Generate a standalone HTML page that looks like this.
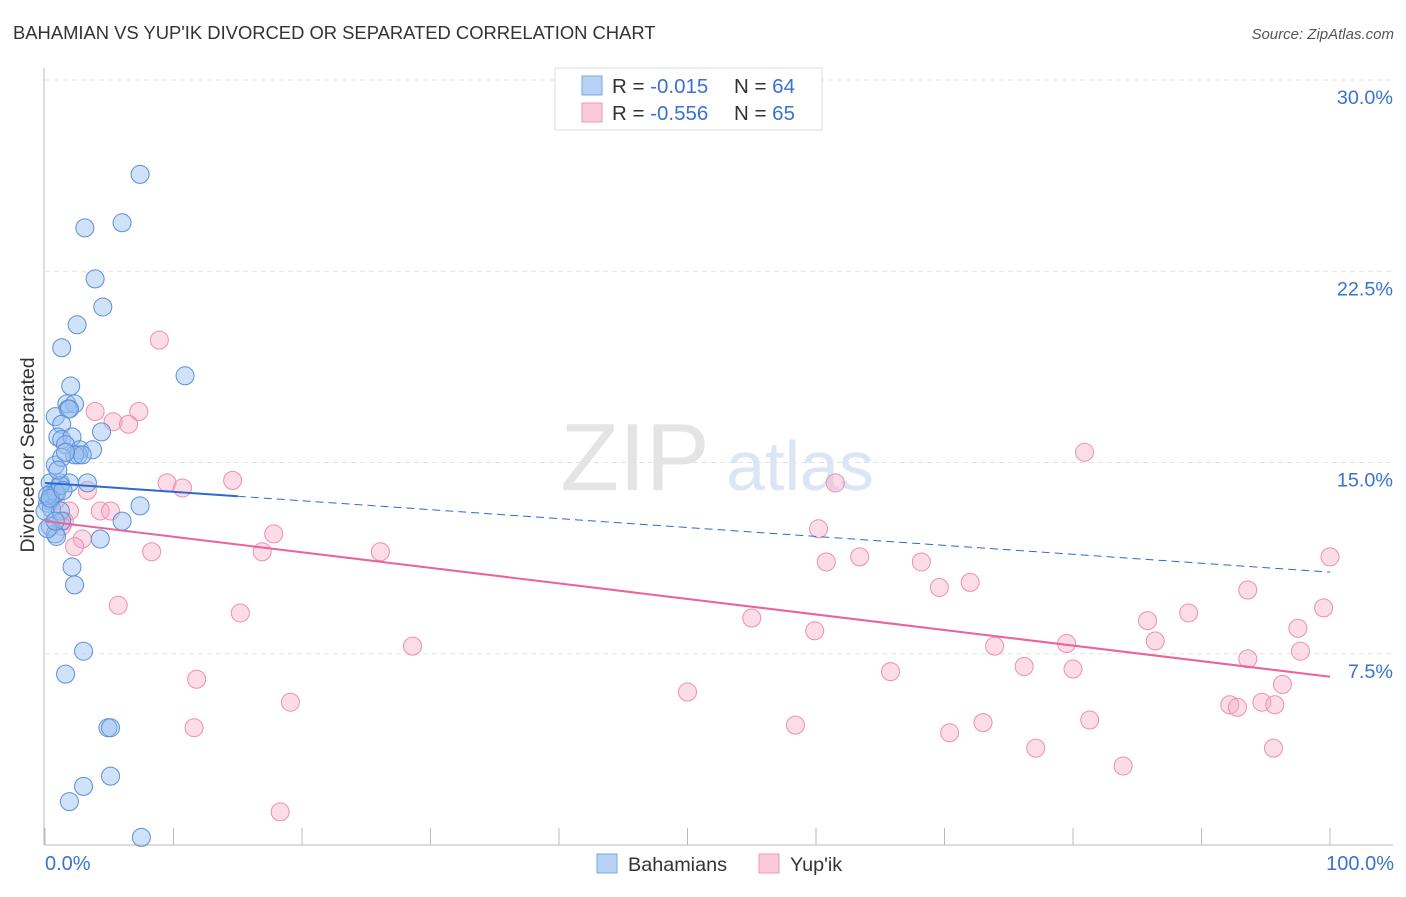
<!DOCTYPE html>
<html><head><meta charset="utf-8">
<style>
body{margin:0;background:#fff;font-family:"Liberation Sans",sans-serif;}
svg text{font-family:"Liberation Sans",sans-serif;}
</style></head>
<body>
<svg width="1406" height="892" viewBox="0 0 1406 892" xmlns="http://www.w3.org/2000/svg">
<text x="13" y="39" font-size="18.4" fill="#333">BAHAMIAN VS YUP'IK DIVORCED OR SEPARATED CORRELATION CHART</text>
<text x="1394" y="39" font-size="15" fill="#555" font-style="italic" text-anchor="end">Source: ZipAtlas.com</text>
<text x="635" y="490" font-size="96" fill="#e4e4e4" font-family="Liberation Serif" text-anchor="middle">ZIP</text>
<text x="800" y="490" font-size="70" fill="#dbe6f5" text-anchor="middle">atlas</text>
<g id="grid"></g>
<g id="axes"></g>
<g id="pts"></g>
<g id="trend"></g>
<text transform="translate(34,455) rotate(-90)" font-size="19.5" fill="#333" text-anchor="middle">Divorced or Separated</text>
<text x="45" y="870" font-size="20" fill="#3a72d0">0.0%</text>
<text x="1394" y="870" font-size="20" fill="#3a72d0" text-anchor="end">100.0%</text>
<g>
<rect x="555" y="68" width="267" height="62" fill="#fff" stroke="#ddd"/>
<rect x="582" y="76" width="20" height="19" fill="#b7d2f5" stroke="#7aa5e3"/>
<rect x="582" y="103" width="20" height="19" fill="#fbc9d8" stroke="#ef9ab5"/>
<text x="612" y="93" font-size="20.5" fill="#333">R = <tspan fill="#3a72d0">-0.015</tspan><tspan x="734">N = </tspan><tspan fill="#3a72d0">64</tspan></text>
<text x="612" y="120" font-size="20.5" fill="#333">R = <tspan fill="#3a72d0">-0.556</tspan><tspan x="734">N = </tspan><tspan fill="#3a72d0">65</tspan></text>
</g>
<g>
<rect x="597" y="854" width="20" height="19" fill="#b7d2f5" stroke="#7aa5e3"/>
<text x="628" y="871" font-size="19.8" fill="#333">Bahamians</text>
<rect x="759" y="854" width="20" height="19" fill="#fbc9d8" stroke="#ef9ab5"/>
<text x="790" y="871" font-size="19.8" fill="#333">Yup'ik</text>
</g>
</svg>
<script>
const yTicks=[7.5,15,22.5,30];
const yTickLabels=["7.5%","15.0%","22.5%","30.0%"];
const xTicks=[0,10,20,30,40,50,60,70,80,90,100];
const blueX=[7.4,6.0,3.1,3.9,4.5,2.5,1.3,10.9,2.0,1.7,2.3,1.8,0.8,1.9,1.3,1.0,1.3,2.1,4.4,1.6,2.7,3.7,2.6,2.3,2.9,0.8,1.3,1.2,1.9,3.3,0.4,0.5,0.8,0.4,0.2,0.9,7.4,0.5,1.2,1.3,6.0,0.4,0.8,0.9,4.3,2.1,2.3,3.0,1.6,4.9,5.1,5.1,3.0,1.9,7.5,0.2,0.0,0.2,1.2,0.8,1.0,1.6,0.4,1.4];
const blueY=[26.3,24.4,24.2,22.2,21.1,20.4,19.5,18.4,18.0,17.3,17.3,17.1,16.8,17.1,16.5,16.0,15.9,16.0,16.2,15.7,15.5,15.5,15.3,15.3,15.3,14.9,15.2,14.2,14.2,14.2,14.2,13.8,13.8,13.5,13.4,13.8,13.3,13.2,13.1,12.7,12.7,12.5,12.2,12.1,12.0,10.9,10.2,7.6,6.7,4.6,4.6,2.7,2.3,1.7,0.3,13.7,13.1,12.4,14.1,12.7,14.7,15.4,13.6,13.9];
const pinkX=[8.9,3.9,7.3,5.3,6.5,9.5,10.7,14.6,3.3,1.9,4.3,5.1,1.5,1.3,2.9,2.3,8.3,16.9,17.8,26.1,5.7,15.2,28.6,11.8,19.1,11.6,18.3,50.0,55.0,58.4,59.9,60.2,60.8,61.5,63.4,65.8,68.2,69.6,70.4,72.0,73.0,73.9,76.2,77.1,79.5,80.0,80.9,81.3,83.9,85.8,86.4,89.0,92.2,92.8,93.6,93.6,94.7,95.6,95.7,96.3,97.5,97.7,99.5,100.0,0.8];
const pinkY=[19.8,17.0,17.0,16.6,16.5,14.2,14.0,14.3,13.9,13.1,13.1,13.1,12.7,12.5,12.0,11.7,11.5,11.5,12.2,11.5,9.4,9.1,7.8,6.5,5.6,4.6,1.3,6.0,8.9,4.7,8.4,12.4,11.1,14.2,11.3,6.8,11.1,10.1,4.4,10.3,4.8,7.8,7.0,3.8,7.9,6.9,15.4,4.9,3.1,8.8,8.0,9.1,5.5,5.4,7.3,10.0,5.6,3.8,5.5,6.3,8.5,7.6,9.3,11.3,13.5];
const blueTrend=[14.2,10.7];
const blueSolidEnd=15;
const pinkTrend=[12.7,6.6];
const NS="http://www.w3.org/2000/svg";
const X0=45,X1=1330,Y0=845,Y30=80;
const sx=v=>X0+(X1-X0)*v/100;
const sy=v=>Y0-(Y0-Y30)*v/30;
function mk(tag,attrs,parent){const e=document.createElementNS(NS,tag);for(const k in attrs)e.setAttribute(k,attrs[k]);parent.appendChild(e);return e;}
const grid=document.getElementById('grid');
yTicks.forEach((t,i)=>{
  const l=mk('line',{x1:45,x2:1393,y1:sy(t),y2:sy(t),stroke:'#e2e2e2','stroke-dasharray':'5,4'},grid);
  
  
  const tx=mk('text',{x:1393,y:sy(t)+24,'font-size':19.8,fill:'#3a72d0','text-anchor':'end'},grid);
  tx.textContent=yTickLabels[i];
  
  
});
const axes=document.getElementById('axes');
const ya=mk('line',{x1:44,x2:44,y1:68,y2:845,stroke:'#bbb'},axes);


const xa=mk('line',{x1:44,x2:1393,y1:845,y2:845,stroke:'#bbb'},axes);


xTicks.forEach(t=>{
  const l=mk('line',{x1:sx(t),x2:sx(t),y1:828,y2:845,stroke:'#bbb'},axes);
  
  
});
const pts=document.getElementById('pts');
pinkX.forEach((x,i)=>{
  const c=mk('circle',{cx:sx(x),cy:sy(pinkY[i]),r:9,fill:'rgba(247,170,196,0.4)',stroke:'#ec8fae','stroke-width':1},pts);
  
  
});
blueX.forEach((x,i)=>{
  const c=mk('circle',{cx:sx(x),cy:sy(blueY[i]),r:9,fill:'rgba(150,190,240,0.45)',stroke:'#5b8fd8','stroke-width':1},pts);
  
  
});
const tr=document.getElementById('trend');
const bAt=v=>blueTrend[0]+(blueTrend[1]-blueTrend[0])*v/100;
const b1=mk('line',{x1:sx(0),y1:sy(bAt(0)),x2:sx(blueSolidEnd),y2:sy(bAt(blueSolidEnd)),stroke:'#2a6ad4','stroke-width':2},tr);


const b2=mk('line',{x1:sx(blueSolidEnd),y1:sy(bAt(blueSolidEnd)),x2:sx(100),y2:sy(bAt(100)),stroke:'#2a6ad4','stroke-width':1,'stroke-dasharray':'8,5'},tr);


const p1=mk('line',{x1:sx(0),y1:sy(pinkTrend[0]),x2:sx(100),y2:sy(pinkTrend[1]),stroke:'#e8649a','stroke-width':2},tr);


</script>
</body></html>
